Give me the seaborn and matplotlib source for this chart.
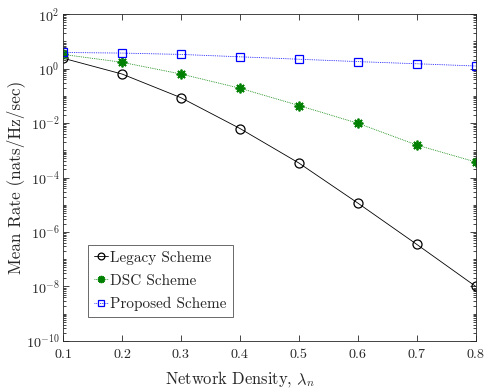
import numpy as np
import pandas as pd
import matplotlib
matplotlib.use("Agg")
import matplotlib.pyplot as plt
import seaborn as sns
from matplotlib.ticker import LogLocator, NullFormatter
from matplotlib.font_manager import FontProperties

density = [0.1, 0.2, 0.3, 0.4, 0.5, 0.6, 0.7, 0.8]
legacy = [2.4, 0.63, 0.085, 0.0063, 3.4e-4, 1.15e-5, 3.5e-7, 1.0e-8]
dsc = [3.3, 1.7, 0.63, 0.19, 0.044, 0.0098, 0.00156, 3.7e-4]
proposed = [3.9, 3.7, 3.3, 2.7, 2.2, 1.8, 1.5, 1.24]
series_names = ["Legacy Scheme", "DSC Scheme", "Proposed Scheme"]
xticks = [0.1, 0.2, 0.3, 0.4, 0.5, 0.6, 0.7, 0.8]
xlabel_text = r"Network Density, $\lambda_n$"
ylabel_text = "Mean Rate (nats/Hz/sec)"

sns.set_style("ticks")
plt.rcParams["font.family"] = ["cmr10", "DejaVu Serif"]
plt.rcParams["mathtext.fontset"] = "cm"
plt.rcParams["axes.formatter.use_mathtext"] = True
plt.rcParams["xtick.direction"] = "in"
plt.rcParams["ytick.direction"] = "in"

df = pd.DataFrame({
    "x": density * 3,
    "y": legacy + dsc + proposed,
    "s": [series_names[0]] * 8 + [series_names[1]] * 8 + [series_names[2]] * 8,
})

fig = plt.figure(figsize=(4.85, 3.91), dpi=100)
ax = fig.add_axes([0.130, 0.128, 0.851, 0.836])
renderer = fig.canvas.get_renderer()


def fit_size(text, target_px, base=12.0):
    fp = FontProperties(family=["cmr10", "DejaVu Serif"], size=base)
    ismath = "$" in text
    w, _, _ = renderer.get_text_width_height_descent(text, fp, ismath=ismath)
    return base * target_px / w


palette = {series_names[0]: "black", series_names[1]: "#008000", series_names[2]: "blue"}
dashes = {series_names[0]: "", series_names[1]: (1, 1.2), series_names[2]: (1, 1.2)}
markers = {series_names[0]: "o", series_names[1]: "*", series_names[2]: "s"}

sns.lineplot(data=df, x="x", y="y", hue="s", style="s", palette=palette,
             dashes=dashes, markers=markers, ax=ax, linewidth=0.6,
             markersize=6.5, legend=False)
for line, name in zip(ax.lines, series_names):
    c = palette[name]
    line.set_markeredgecolor(c)
    line.set_markerfacecolor("none")
    line.set_markeredgewidth(0.9)
    if name == "DSC Scheme":
        line.set_marker((8, 2, 0))
        line.set_markersize(7)
        line.set_markeredgewidth(1.3)
    if name == "Proposed Scheme":
        line.set_markersize(6)
    line.set_label(name)

ax.set_yscale("log")
ax.set_xlim(0.1, 0.8)
ax.set_ylim(1e-10, 1e2)
ax.set_xticks(xticks)
ax.set_xticklabels([f"{t:.1f}" for t in xticks])
ax.yaxis.set_major_locator(LogLocator(base=100, numticks=10))
ax.yaxis.set_minor_locator(LogLocator(base=10, subs=np.arange(1, 10), numticks=30))
ax.yaxis.set_minor_formatter(NullFormatter())
tick_fs = fit_size("0.3", 18)
ax.tick_params(which="both", top=True, right=True, labelsize=tick_fs, colors="#262626", width=0.6)
ax.tick_params(which="major", length=4)
ax.tick_params(which="minor", length=2)
ax.tick_params(axis="x", pad=5.5)
ax.tick_params(axis="y", pad=2.5)
for sp in ax.spines.values():
    sp.set_linewidth(0.6)
    sp.set_color("#262626")

ax.set_xlabel(xlabel_text, fontsize=fit_size(xlabel_text, 150), color="#262626")
ax.set_ylabel(ylabel_text, fontsize=fit_size(ylabel_text, 193), color="#262626")
ax.xaxis.set_label_coords(0.4286, -0.087)
ax.yaxis.set_label_coords(-0.092, 0.5015)

leg_fs = fit_size("Legacy Scheme", 101)
leg = ax.legend(loc="lower left", bbox_to_anchor=(0.06, 0.073), fontsize=leg_fs,
                frameon=True, fancybox=False, edgecolor="#262626",
                handlelength=0.95, handletextpad=0.1, borderpad=0.4, labelspacing=0.6,
                borderaxespad=0, markerscale=0.75)
leg.get_frame().set_linewidth(0.6)

fig.savefig("out.png", dpi=100)
